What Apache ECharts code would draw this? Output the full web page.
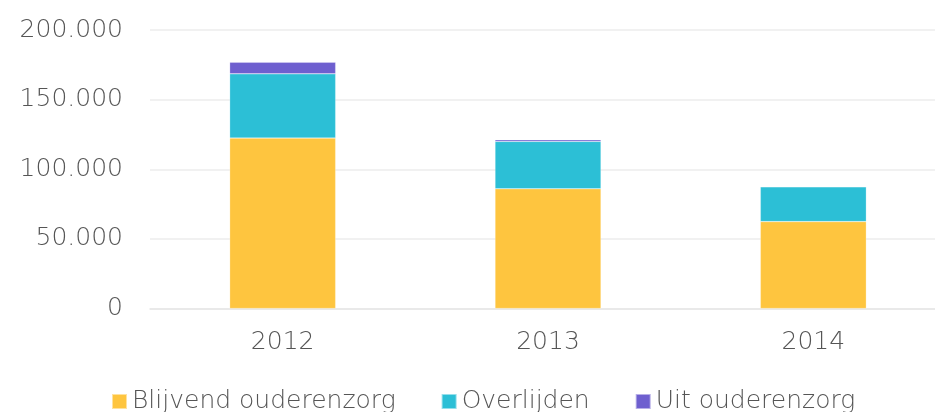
<!DOCTYPE html>
<html>
<head>
<meta charset="utf-8">
<script src="https://cdn.jsdelivr.net/npm/echarts@6/dist/echarts.min.js"></script>
<style>
  html, body { margin: 0; padding: 0; background: #fff; }
  #main { width: 935px; height: 412px; }
</style>
</head>
<body>
<div id="main"></div>
<script>
var years = ['2012', '2013', '2014'];
var blijvend = [122400, 86000, 62400];
var overlijden = [46100, 34000, 25000];
var uitZorg = [8300, 1200, 0];
var seriesNames = ['Blijvend ouderenzorg', 'Overlijden', 'Uit ouderenzorg'];
var colors = ['#fec53f', '#2cbfd6', '#6e5fcf'];

function fmt(v) {
  return String(v).replace(/\B(?=(\d{3})+(?!\d))/g, '.');
}

var chart = echarts.init(document.getElementById('main'));
var font = '"DejaVu Sans"';
var txt = { fontFamily: font, fontWeight: 200, fontSize: 25, color: '#555' };
var bar = function (name, data, i) {
  return {
    name: name,
    type: 'bar',
    stack: 'totaal',
    barWidth: 106,
    data: data,
    itemStyle: { color: colors[i], borderColor: 'rgba(255,255,255,0.5)', borderWidth: 0.5 }
  };
};

chart.setOption({
  animation: false,
  textStyle: { fontFamily: font },
  grid: { left: 150, right: -11, top: 30, bottom: 103.5, outerBoundsMode: 'none' },
  legend: {
    data: seriesNames,
    top: 384,
    left: 106,
    itemWidth: 15,
    itemHeight: 15,
    itemGap: 45,
    icon: 'rect',
    textStyle: txt
  },
  xAxis: {
    type: 'category',
    data: years,
    axisLine: { lineStyle: { color: '#e6e6e6', width: 1.5 } },
    axisTick: { show: false },
    axisLabel: Object.assign({ margin: 21 }, txt)
  },
  yAxis: {
    type: 'value',
    min: 0,
    max: 200000,
    interval: 50000,
    axisLine: { show: false },
    axisTick: { show: false },
    splitLine: { lineStyle: { color: '#ececec', width: 1.5 } },
    axisLabel: Object.assign({ margin: 27, formatter: fmt }, txt)
  },
  series: [
    bar(seriesNames[0], blijvend, 0),
    bar(seriesNames[1], overlijden, 1),
    bar(seriesNames[2], uitZorg, 2)
  ]
});
</script>
</body>
</html>
